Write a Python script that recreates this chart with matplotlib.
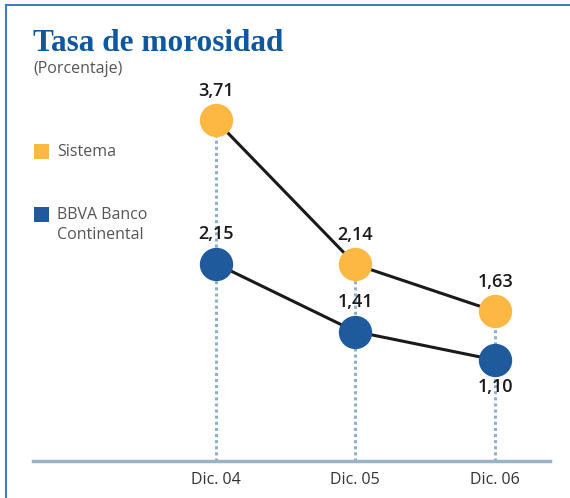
import matplotlib
matplotlib.use("Agg")
import matplotlib.pyplot as plt
from matplotlib.patches import Rectangle
from matplotlib.lines import Line2D

categories = ["Dic. 04", "Dic. 05", "Dic. 06"]
sistema = [3.71, 2.14, 1.63]
bbva = [2.15, 1.41, 1.10]
series_names = ["Sistema", "BBVA Banco\nContinental"]

ORANGE = "#FDB844"
BLUE = "#1F5A9C"
GRID = "#8EB0C9"
AXIS = "#9BB4C4"
FRAME = "#3F7CC0"
SANS = "Open Sans"

W, H = 570, 498
fig = plt.figure(figsize=(W / 100, H / 100), dpi=100)

ax_left, ax_right, ax_bottom_px = 33, 550, 461
ax = fig.add_axes([ax_left / W, 1 - ax_bottom_px / H, (ax_right - ax_left) / W, ax_bottom_px / H])
ax.set_xlim(-1.307, 2.393)
ax.set_ylim(0, 5.02)
ax.patch.set_alpha(0)

x = list(range(len(categories)))
for xi, s, b in zip(x, sistema, bbva):
    ax.plot([xi, xi], [0, max(s, b)], color=GRID, lw=2.2, ls=(0, (1, 1)), zorder=1)

ax.plot(x, sistema, color="#1a1a1a", lw=2.2, zorder=2)
ax.plot(x, bbva, color="#1a1a1a", lw=2.2, zorder=2)
ax.plot(x, sistema, ls="none", marker="o", ms=24, color=ORANGE, mec="none", zorder=3)
ax.plot(x, bbva, ls="none", marker="o", ms=24, color=BLUE, mec="none", zorder=3)

lab_kw = dict(ha="center", va="center", fontsize=13, color="#1a1a1a",
              family=SANS, fontweight="semibold", zorder=4)
for xi, v in zip(x, sistema):
    ax.annotate(f"{v:.2f}".replace(".", ","), (xi, v), xytext=(0, 21),
                textcoords="offset points", **lab_kw)
for i, (xi, v) in enumerate(zip(x, bbva)):
    off = -19.5 if i == len(bbva) - 1 else 21
    ax.annotate(f"{v:.2f}".replace(".", ","), (xi, v), xytext=(0, off),
                textcoords="offset points", **lab_kw)

for sp in ["top", "right", "left"]:
    ax.spines[sp].set_visible(False)
ax.spines["bottom"].set_color(AXIS)
ax.spines["bottom"].set_linewidth(2.5)
ax.set_yticks([])
ax.set_xticks(x)
ax.set_xticklabels(categories, fontsize=11.5, color="#333333", family=SANS)
ax.tick_params(axis="x", length=0, pad=8)

fig.add_artist(Line2D([6 / W, 1], [1 - 5 / H, 1 - 5 / H], transform=fig.transFigure, color=FRAME, lw=1.5))
fig.add_artist(Line2D([6 / W, 6 / W], [0, 1 - 5 / H], transform=fig.transFigure, color=FRAME, lw=1.5))

fig.text(33 / W, 1 - 51 / H, "Tasa de morosidad", fontsize=22.5, fontweight="bold",
         family="Liberation Serif", color="#0E58A0", ha="left", va="baseline")
fig.text(33 / W, 1 - 69 / H, "(Porcentaje)", fontsize=11.5, family=SANS,
         color="#555555", ha="left", va="center")

colors = [ORANGE, BLUE]
sq_y = [152, 214.5]
txt_y = [153, 216]
for c, name, yc, ty in zip(colors, series_names, sq_y, txt_y):
    fig.add_artist(Rectangle((34 / W, 1 - (yc + 7.5) / H), 15 / W, 15 / H,
                             transform=fig.transFigure, color=c, lw=0))
    fig.text(57 / W, 1 - (ty - 9) / H, name, fontsize=11.5, family=SANS,
             color="#555555", ha="left", va="top", linespacing=1.3)

fig.savefig("out.png", dpi=100)
